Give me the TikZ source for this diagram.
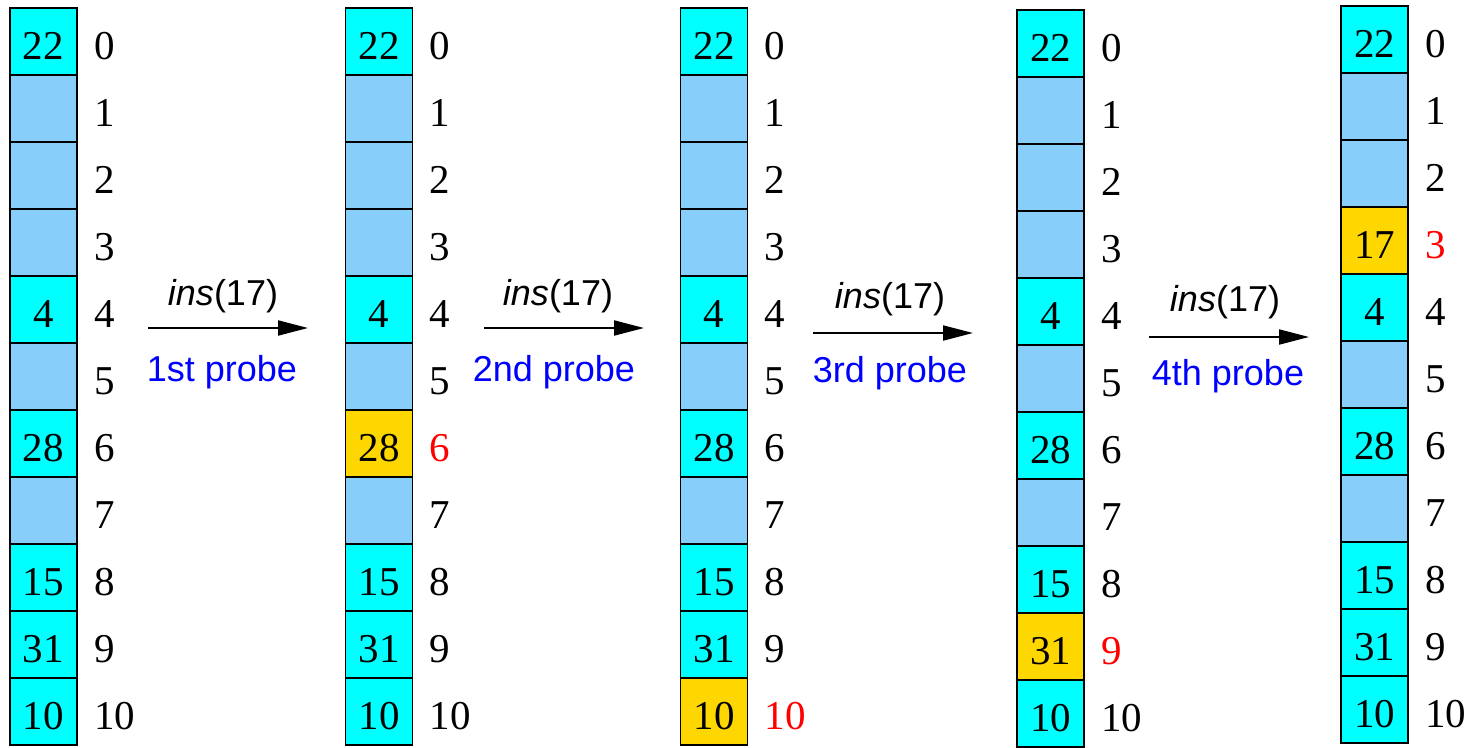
\documentclass[tikz,border=0pt]{standalone}
\usepackage{fontspec}
\setmainfont{Liberation Serif}
\newfontfamily\arialf{Liberation Sans}
\usetikzlibrary{arrows.meta}
\definecolor{cy}{RGB}{0,255,255}
\definecolor{lb}{RGB}{135,206,250}
\definecolor{gd}{RGB}{255,215,0}
\definecolor{rd}{RGB}{255,0,0}
\definecolor{bl}{RGB}{0,0,255}
\definecolor{bk}{RGB}{0,0,0}
\tikzset{
  cell/.style={draw=black, line width=1.3pt, minimum width=67pt, minimum height=67pt,
    inner sep=0pt, anchor=center, font=\fontsize{41}{48}\selectfont, text height=36pt, text depth=0pt},
  idx/.style={anchor=west, inner sep=0pt, font=\fontsize{41}{48}\selectfont, text height=36pt, text depth=0pt},
  arr/.style={line width=2pt, -{Triangle[length=30pt,width=15pt]}},
  opl/.style={font=\arialf\fontsize{36}{42}\selectfont, inner sep=0pt},
  prl/.style={font=\arialf\fontsize{36}{42}\selectfont, inner sep=0pt, text=bl},
}
\newcommand{\drawcolumn}[4]{%
  \foreach \f/\t/\lc [count=\k from 0] in {#4} {
    \node[cell, fill=\f] (c#1r\k) at ({#2+33.5}, {#3+67*\k+33.5}) {\t};
    \node[idx, text=\lc] (l#1r\k) at ({#2+67+17}, {#3+67*\k+33.5}) {\k};
  }
}
\begin{document}
\begin{tikzpicture}[x=1pt,y=-1pt]
\useasboundingbox (0,0) rectangle (1469,747);
\drawcolumn{1}{10}{8}{cy/22/bk, lb//bk, lb//bk, lb//bk, cy/4/bk, lb//bk, cy/28/bk, lb//bk, cy/15/bk, cy/31/bk, cy/10/bk}
\drawcolumn{2}{345.5}{8}{cy/22/bk, lb//bk, lb//bk, lb//bk, cy/4/bk, lb//bk, gd/28/rd, lb//bk, cy/15/bk, cy/31/bk, cy/10/bk}
\drawcolumn{3}{680.5}{8}{cy/22/bk, lb//bk, lb//bk, lb//bk, cy/4/bk, lb//bk, cy/28/bk, lb//bk, cy/15/bk, cy/31/bk, gd/10/rd}
\drawcolumn{4}{1017}{10}{cy/22/bk, lb//bk, lb//bk, lb//bk, cy/4/bk, lb//bk, cy/28/bk, lb//bk, cy/15/bk, gd/31/rd, cy/10/bk}
\drawcolumn{5}{1341}{6}{cy/22/bk, lb//bk, lb//bk, gd/17/rd, cy/4/bk, lb//bk, cy/28/bk, lb//bk, cy/15/bk, cy/31/bk, cy/10/bk}
% arrows
\coordinate (a1s) at (148,328); \coordinate (a1e) at (308,328);
\coordinate (a2s) at (484,328); \coordinate (a2e) at (644,328);
\coordinate (a3s) at (813,333); \coordinate (a3e) at (973,333);
\coordinate (a4s) at (1149,337); \coordinate (a4e) at (1309,337);
\draw[arr] (a1s) -- (a1e);
\draw[arr] (a2s) -- (a2e);
\draw[arr] (a3s) -- (a3e);
\draw[arr] (a4s) -- (a4e);
\node[opl] (o1) at (223,296) {\textit{ins}(17)};
\node[opl] (o2) at (558,296) {\textit{ins}(17)};
\node[opl] (o3) at (890,299) {\textit{ins}(17)};
\node[opl] (o4) at (1225,302) {\textit{ins}(17)};
\node[prl] (p1) at (222,372) {1st probe};
\node[prl] (p2) at (554,372) {2nd probe};
\node[prl] (p3) at (890,373) {3rd probe};
\node[prl] (p4) at (1228,376) {4th probe};
\end{tikzpicture}
\end{document}
